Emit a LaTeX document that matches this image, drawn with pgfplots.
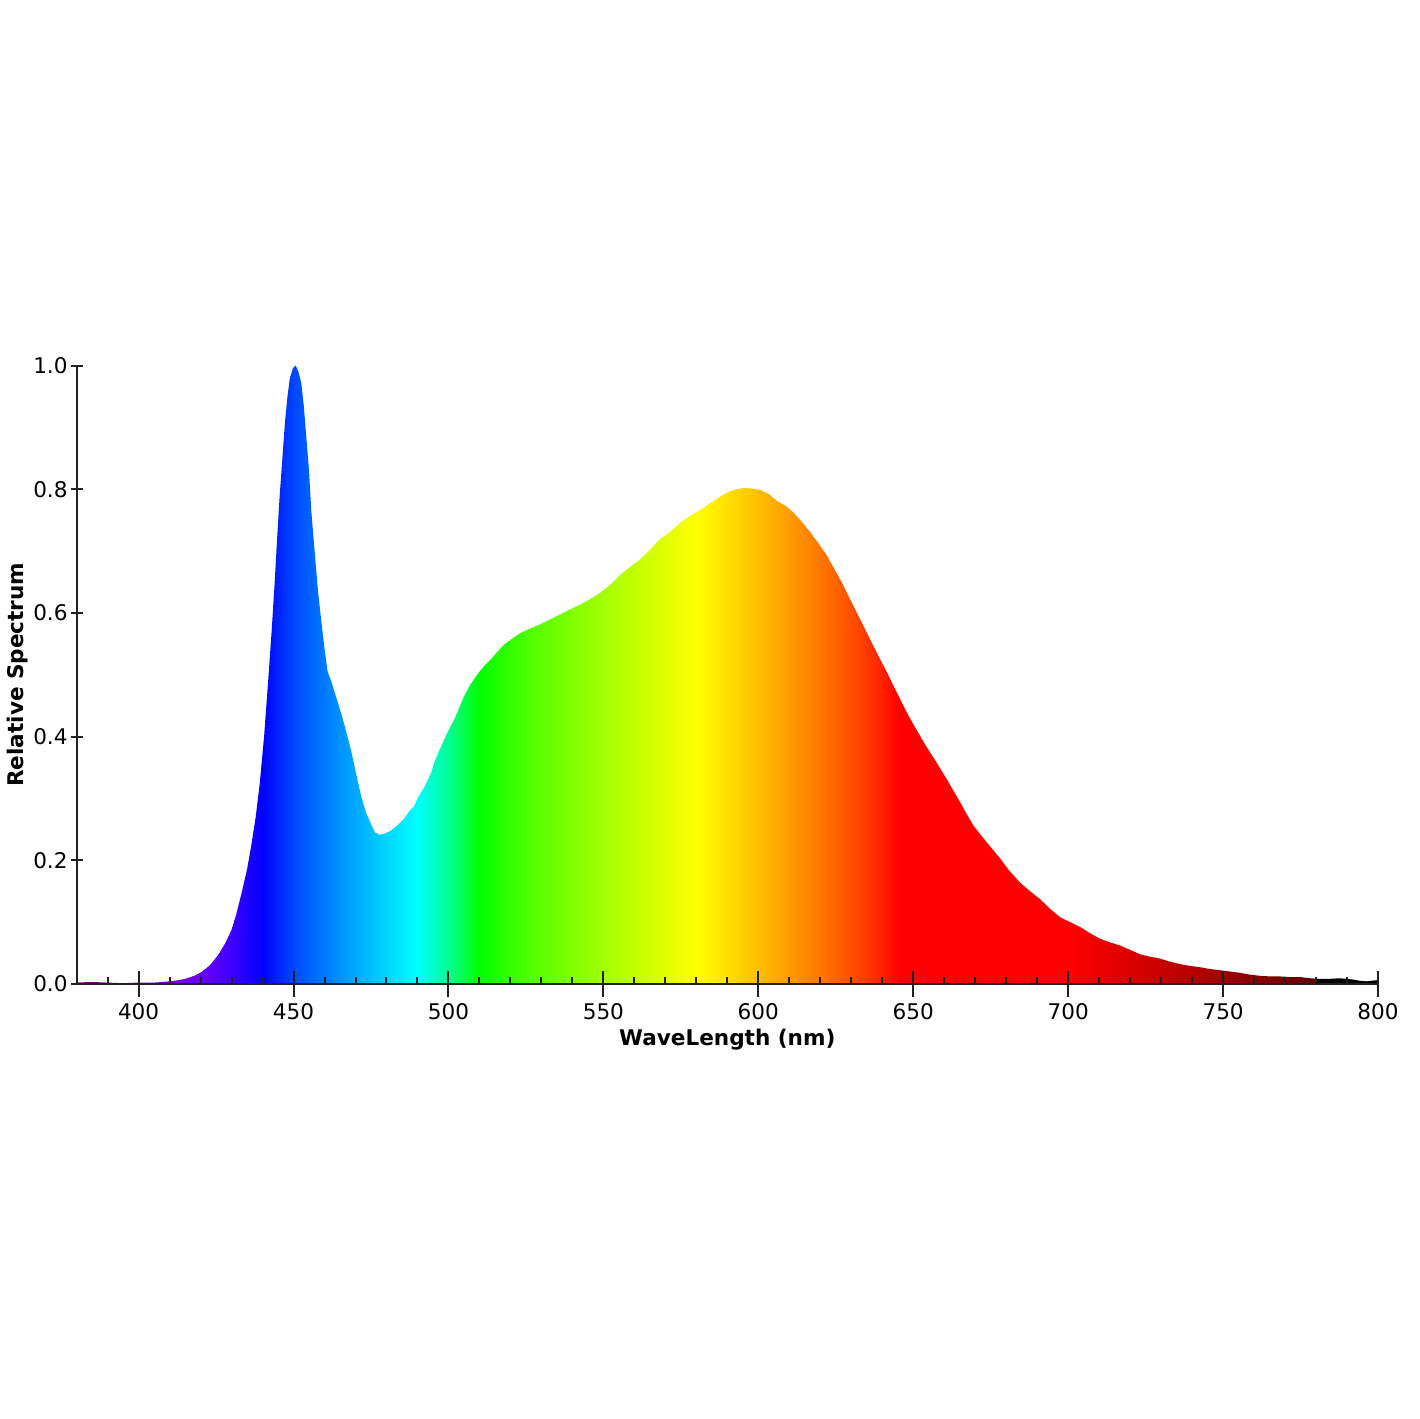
\documentclass[border=0pt]{standalone}
\usepackage{pgfplots}
\pgfplotsset{compat=1.18}
\usepackage{fontspec}
\setmainfont{DejaVu Sans}
% spectral colours (wavelength -> RGB, gamma 0.8)
\definecolor{w380}{rgb}{0.381,0,0.381}
\definecolor{w390}{rgb}{0.476,0,0.551}
\definecolor{w400}{rgb}{0.512,0,0.708}
\definecolor{w410}{rgb}{0.493,0,0.857}
\definecolor{w420}{rgb}{0.415,0,1}
\definecolor{w430}{rgb}{0.238,0,1}
\definecolor{w440}{rgb}{0,0,1}
\definecolor{w450}{rgb}{0,0.276,1}
\definecolor{w460}{rgb}{0,0.480,1}
\definecolor{w470}{rgb}{0,0.665,1}
\definecolor{w480}{rgb}{0,0.837,1}
\definecolor{w490}{rgb}{0,1,1}
\definecolor{w500}{rgb}{0,1,0.574}
\definecolor{w510}{rgb}{0,1,0}
\definecolor{w520}{rgb}{0.211,1,0}
\definecolor{w530}{rgb}{0.367,1,0}
\definecolor{w540}{rgb}{0.508,1,0}
\definecolor{w550}{rgb}{0.639,1,0}
\definecolor{w560}{rgb}{0.764,1,0}
\definecolor{w570}{rgb}{0.884,1,0}
\definecolor{w580}{rgb}{1,1,0}
\definecolor{w590}{rgb}{1,0.875,0}
\definecolor{w600}{rgb}{1,0.745,0}
\definecolor{w610}{rgb}{1,0.609,0}
\definecolor{w620}{rgb}{1,0.466,0}
\definecolor{w630}{rgb}{1,0.309,0}
\definecolor{w640}{rgb}{1,0.128,0}
\definecolor{w645}{rgb}{1,0,0}
\definecolor{w700}{rgb}{1,0,0}
\definecolor{w710}{rgb}{0.929,0,0}
\definecolor{w720}{rgb}{0.857,0,0}
\definecolor{w730}{rgb}{0.784,0,0}
\definecolor{w740}{rgb}{0.708,0,0}
\definecolor{w750}{rgb}{0.631,0,0}
\definecolor{w760}{rgb}{0.551,0,0}
\definecolor{w770}{rgb}{0.468,0,0}
\definecolor{w780}{rgb}{0.381,0,0}
\definecolor{axisgray}{rgb}{0.13,0.13,0.13}
% 380 nm -> 25bp, 800 nm -> 75bp
\pgfdeclarehorizontalshading{spectrum}{100bp}{%
color(0bp)=(w380); color(25bp)=(w380); color(26.1905bp)=(w390);
color(27.381bp)=(w400); color(28.5714bp)=(w410); color(29.7619bp)=(w420);
color(30.9524bp)=(w430); color(32.1429bp)=(w440); color(33.3333bp)=(w450);
color(34.5238bp)=(w460); color(35.7143bp)=(w470); color(36.9048bp)=(w480);
color(38.0952bp)=(w490); color(39.2857bp)=(w500); color(40.4762bp)=(w510);
color(41.6667bp)=(w520); color(42.8571bp)=(w530); color(44.0476bp)=(w540);
color(45.2381bp)=(w550); color(46.4286bp)=(w560); color(47.619bp)=(w570);
color(48.8095bp)=(w580); color(50bp)=(w590); color(51.1905bp)=(w600);
color(52.381bp)=(w610); color(53.5714bp)=(w620); color(54.7619bp)=(w630);
color(55.9524bp)=(w640); color(56.5476bp)=(w645); color(63.0952bp)=(w700);
color(64.2857bp)=(w710); color(65.4762bp)=(w720); color(66.6667bp)=(w730);
color(67.8571bp)=(w740); color(69.0476bp)=(w750); color(70.2381bp)=(w760);
color(71.4286bp)=(w770); color(72.619bp)=(w780); color(72.64bp)=(black);
color(100bp)=(black)}
\pgfplotstableread{
wl v
380 0.002
385 0.003
390 0.002
395 0.001
400 0.002
405 0.002
410 0.004
413 0.006
415 0.008
418 0.013
420.3 0.019
423 0.030
425.6 0.046
428 0.066
429.9 0.086
431.5 0.112
433.2 0.146
435 0.185
436.4 0.225
437.8 0.270
439.1 0.324
440.5 0.400
441.8 0.489
443 0.575
443.9 0.648
444.7 0.720
445.5 0.787
446.4 0.850
447.2 0.906
448 0.948
448.8 0.979
449.8 0.996
450.7 1.0
451.6 0.990
452.5 0.972
453.3 0.935
454.1 0.886
455 0.830
455.7 0.767
456.8 0.700
457.9 0.635
459 0.585
460 0.542
461 0.505
462.2 0.489
463.8 0.463
465.4 0.437
467 0.408
468.6 0.377
470.2 0.340
471.8 0.304
473.4 0.277
475 0.258
476.3 0.245
477.7 0.241
479.5 0.243
481.5 0.248
483.5 0.256
485.8 0.268
487.5 0.280
489 0.288
490.1 0.301
492.2 0.318
494.4 0.341
495.4 0.358
497 0.377
498.7 0.396
500.3 0.413
501.9 0.428
503.5 0.447
505.1 0.466
507.2 0.485
509.4 0.501
511.5 0.514
513.7 0.525
515.8 0.537
518.0 0.549
520.7 0.559
523.4 0.568
526.5 0.575
529.8 0.582
533 0.590
536.2 0.598
539.4 0.606
542.7 0.614
546 0.623
549.1 0.633
552.3 0.646
555.6 0.662
558.8 0.675
562.0 0.687
565 0.702
568 0.718
571.5 0.731
574.9 0.746
578 0.757
581.4 0.767
583.5 0.774
585.6 0.781
588.3 0.790
591.0 0.797
593 0.800
595.3 0.802
598 0.801
600.7 0.799
603.4 0.792
606.1 0.781
608.8 0.773
611.4 0.762
614.1 0.747
616.8 0.730
619.5 0.712
622.2 0.692
624.3 0.673
626.4 0.654
628.5 0.633
630.7 0.611
632.8 0.590
635.0 0.568
637.2 0.546
639.3 0.525
641.5 0.504
643.6 0.482
645.8 0.460
647.9 0.439
650 0.420
652.2 0.401
654.3 0.383
656.5 0.366
658.6 0.349
660.8 0.331
663 0.312
665.1 0.294
667.2 0.275
669.4 0.256
671.6 0.242
673.7 0.229
676 0.215
678.0 0.203
681 0.183
684.4 0.164
687.6 0.150
690.9 0.137
694 0.122
697.3 0.108
700.5 0.100
703.8 0.092
707 0.082
710.2 0.073
713.5 0.067
716.7 0.062
720 0.055
723.1 0.048
726.3 0.044
729.5 0.041
732.7 0.036
736.0 0.032
739.2 0.029
742.4 0.027
745.6 0.024
748.9 0.022
752 0.020
755.3 0.018
758.5 0.015
761.8 0.013
765 0.012
768.2 0.012
771.5 0.011
774.7 0.011
778 0.009
781.1 0.008
784.3 0.008
787.5 0.009
790 0.008
791.8 0.007
794 0.005
796.1 0.004
798 0.005
800 0.006
}\spec
\begin{document}
\begin{tikzpicture}
\begin{axis}[
  at={(0,0)}, anchor=south west,
  scale only axis,
  width=651.5pt, height=309.5pt,
  xmin=380, xmax=800, ymin=0, ymax=1,
  axis on top,
  axis x line*=bottom, axis y line*=left,
  axis line style={axisgray, line width=1pt, -},
  xtick={400,450,...,800},
  minor xtick={390,410,420,430,440,460,470,480,490,510,520,530,540,560,570,580,590,610,620,630,640,660,670,680,690,710,720,730,740,760,770,780,790},
  ytick={0,0.2,...,1.0},
  tick style={axisgray, line width=1pt},
  tick align=inside,
  major tick length=13pt,
  minor tick length=3.2pt,
  major x tick style={yshift=-6.5pt},
  y tick style={xshift=-3pt, xscale=0.4615},
  y tick label style={/pgf/number format/fixed, /pgf/number format/fixed zerofill, /pgf/number format/precision=1},
  /pgf/number format/assume math mode=true,
  tick label style={font=\fontsize{10.8}{12}\selectfont, black},
  xticklabel style={yshift=-6.5pt},
  yticklabel style={xshift=-1pt},
  xlabel={\textbf{WaveLength (nm)}},
  ylabel={\textbf{Relative Spectrum}},
  label style={font=\fontsize{10.8}{12}\selectfont},
  xlabel style={yshift=2.5pt},
  ylabel style={yshift=-4pt},
  clip=false,
]
\addplot[draw=none, shading=spectrum] table[x=wl, y=v] {\spec} \closedcycle;
\end{axis}
\path (-37.5pt,-217.5pt) rectangle (672.5pt,492.5pt);
\end{tikzpicture}
\end{document}
